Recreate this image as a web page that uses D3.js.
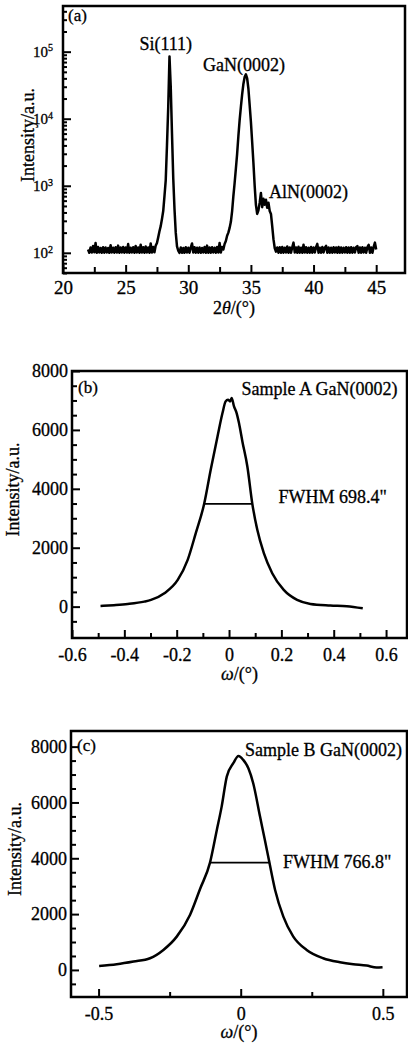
<!DOCTYPE html>
<html>
<head>
<meta charset="utf-8">
<script src="https://cdn.jsdelivr.net/npm/d3@7"></script>
<style>
  body { margin: 0; background: #fff; }
  svg text { fill: #000; stroke: #000; stroke-width: 0.3px; }
</style>
</head>
<body>
<div id="chart"></div>
<script>
// ---- (a) 2theta-omega XRD scan, log intensity, 0.1 deg step from 22 deg ----
const scanStart = 22;
const scanStep = 0.1;
const xrdIntensity = [
  // 22.0 - 27.4 background
  112, 100, 120, 101, 126, 102, 140, 100, 122, 101,
  118, 100, 121, 100, 120, 101, 118, 100, 130, 101,
  119, 100, 121, 101, 128, 100, 120, 101, 122, 100,
  120, 101, 135, 100, 119, 101, 121, 100, 126, 101,
  120, 100, 132, 101, 121, 100, 124, 101, 120, 100,
  138, 101, 122, 102, 128,
  // 27.5 - 29.1 Si(111)
  140, 170, 210, 250, 320, 420, 700, 1200, 4000, 15000,
  85000, 30000, 6000, 1300, 450, 200, 125,
  // 29.2 - 32.8 background
  108, 100, 120, 100, 118, 100, 121, 101, 119, 100,
  120, 138, 101, 121, 100, 119, 100, 120, 100, 118,
  101, 122, 100, 128, 100, 120, 100, 121, 101, 119,
  100, 122, 101, 140, 101, 122, 112,
  // 32.9 - 37.0 GaN(0002) + AlN(0002)
  135, 150, 180, 200, 235, 290, 420, 700, 1100, 1800,
  3000, 5500, 9500, 15000, 23000, 33000, 42000, 46000, 40000, 28000,
  16000, 9000, 4500, 2200, 1000, 520, 380, 430, 560, 780,
  480, 640, 520, 620, 470, 560, 420, 380, 250, 160,
  118, 104,
  // 37.1 - 45.0 background
  120, 100, 121, 100, 122, 100, 119, 101, 124, 100,
  120, 100, 121, 142, 101, 120, 100, 123, 100, 119,
  100, 132, 101, 121, 100, 119, 100, 122, 100, 120,
  101, 121, 136, 100, 119, 100, 122, 101, 119, 127,
  100, 120, 100, 119, 100, 121, 101, 120, 100, 122,
  100, 120, 100, 119, 101, 121, 100, 120, 100, 121,
  100, 119, 101, 121, 126, 100, 120, 100, 121, 101,
  119, 100, 122, 132, 100, 120, 100, 123, 142, 112,
];
const xrdTheta = xrdIntensity.map((_, i) => +(scanStart + i * scanStep).toFixed(1));
const xrdMajorTicks = [20, 25, 30, 35, 40, 45];
const xrdMinorTicks = [22.5, 27.5, 32.5, 37.5, 42.5];
const xrdDecades = [1e2, 1e3, 1e4, 1e5];
const xrdLogMinor = [50, 60, 70, 80, 90,
  200, 300, 400, 500, 600, 700, 800, 900,
  2000, 3000, 4000, 5000, 6000, 7000, 8000, 9000,
  20000, 30000, 40000, 50000, 60000, 70000, 80000, 90000,
  200000, 300000, 400000];

// ---- (b) rocking curve, sample A ----
const omegaA = [-0.491, -0.44, -0.387, -0.324, -0.298, -0.247, -0.196, -0.158, -0.127,
  -0.095, -0.07, -0.044, -0.025, -0.013, -0.004, 0.004, 0.01, 0.019, 0.029,
  0.038, 0.051, 0.07, 0.089, 0.108, 0.133, 0.165, 0.209, 0.26, 0.311,
  0.387, 0.45, 0.511];
const intensityA = [20, 50, 90, 170, 228, 455, 907, 1587, 2495,
  3490, 4647, 5780, 6573, 6968, 7026, 6968, 7083, 6800, 6573,
  6233, 5610, 4760, 3490, 2607, 1815, 1135, 567, 228, 92,
  40, 15, -57];
const fwhmA = { from: -0.095, to: 0.089, level: 3490, label: 'FWHM 698.4"' };
const omegaTicksB = [-0.6, -0.4, -0.2, 0, 0.2, 0.4, 0.6];
const omegaMinorB = [-0.5, -0.3, -0.1, 0.1, 0.3, 0.5];

// ---- (c) rocking curve, sample B ----
const omegaB = [-0.498, -0.436, -0.377, -0.319, -0.272, -0.225, -0.178, -0.143, -0.108,
  -0.084, -0.067, -0.049, -0.026, -0.008, 0.009, 0.027, 0.044, 0.068, 0.085,
  0.101, 0.121, 0.15, 0.185, 0.232, 0.29, 0.349, 0.396, 0.443, 0.478, 0.499];
const intensityB = [143, 203, 300, 419, 717, 1193, 1980, 2900, 3845,
  5016, 5851, 6926, 7406, 7667, 7524, 7227, 6690, 5493, 4658,
  3845, 2866, 1910, 1193, 717, 419, 275, 203, 155, 84, 96];
const fwhmB = { from: -0.108, to: 0.101, level: 3845, label: 'FWHM 766.8"' };
const omegaTicksC = [-0.5, 0, 0.5];
const omegaMinorC = [-0.25, 0.25];

const intensityTicks = [0, 2000, 4000, 6000, 8000];
const intensityMinor = [-500, 500, 1000, 1500, 2500, 3000, 3500, 4500, 5000, 5500, 6500, 7000, 7500];

const FONT = '"Liberation Serif", "Times New Roman", Times, serif';

const svg = d3.select('#chart')
  .append('svg')
  .attr('width', 408)
  .attr('height', 1043)
  .style('background', '#fff');

// common axis styling: no domain path (frame drawn separately), thick black ticks
const styleAxis = (sel, fontSize) => {
  sel.select('.domain').remove();
  sel.attr('font-family', FONT).attr('font-size', fontSize);
  sel.selectAll('.tick line').attr('stroke', '#000').attr('stroke-width', 2);
  sel.selectAll('.tick text').attr('fill', '#000');
};

const fmt = (d) => String(d);

const drawFrame = (x, y) => {
  const [x0, x1] = x.range();
  const [y0, y1] = y.range();
  svg.append('rect')
    .attr('x', x0).attr('y', y1)
    .attr('width', x1 - x0).attr('height', y0 - y1)
    .attr('fill', 'none')
    .attr('stroke', '#000')
    .attr('stroke-width', 2.5);
};

const yTitle = (cx, cy) => {
  svg.append('text')
    .attr('transform', `translate(${cx},${cy}) rotate(-90)`)
    .attr('text-anchor', 'middle')
    .attr('dy', '0.35em')
    .attr('font-family', FONT)
    .attr('font-size', 18)
    .text('Intensity/a.u.');
};

const xTitle = (cx, baseline, symbol) => {
  const t = svg.append('text')
    .attr('x', cx).attr('y', baseline)
    .attr('text-anchor', 'middle')
    .attr('font-family', FONT)
    .attr('font-size', 18);
  if (symbol === 'theta') {
    t.append('tspan').text('2');
    t.append('tspan').attr('font-style', 'italic').text('θ');
  } else {
    t.append('tspan').attr('font-style', 'italic').text('ω');
  }
  t.append('tspan').text('/(°)');
};

const note = (x, y, txt, anchor = 'start', size = 18) => {
  svg.append('text')
    .attr('x', x).attr('y', y)
    .attr('text-anchor', anchor)
    .attr('font-family', FONT)
    .attr('font-size', size)
    .text(txt);
};

// ================= panel (a) =================
const xA = d3.scaleLinear().domain([20, 47.3]).range([63, 405]);
const yA = d3.scaleLog().domain([50, 4.8e5]).range([273, 6]);

svg.append('g')
  .attr('transform', `translate(0,${yA.range()[0]})`)
  .call(d3.axisBottom(xA).tickValues(xrdMinorTicks).tickSize(-6).tickFormat(''))
  .call((s) => styleAxis(s, 19));

svg.append('g')
  .attr('transform', `translate(0,${yA.range()[0]})`)
  .call(d3.axisBottom(xA).tickValues(xrdMajorTicks).tickSize(-8).tickPadding(8).tickFormat(fmt))
  .call((s) => styleAxis(s, 19));

svg.append('g')
  .attr('transform', `translate(${xA.range()[0]},0)`)
  .call(d3.axisLeft(yA).tickValues(xrdLogMinor).tickSize(-4).tickFormat(''))
  .call((s) => styleAxis(s, 14));

svg.append('g')
  .attr('transform', `translate(${xA.range()[0]},0)`)
  .call(d3.axisLeft(yA).tickValues(xrdDecades).tickSize(-8).tickPadding(10).tickFormat(() => '10'))
  .call((s) => styleAxis(s, 15))
  .call((s) => s.selectAll('.tick text')
    .append('tspan')
    .attr('dy', '-0.55em')
    .attr('font-size', 10)
    .text((d) => Math.round(Math.log10(d))));

const xrdLine = d3.line()
  .x((d, i) => xA(xrdTheta[i]))
  .y((d) => yA(d));

svg.append('path')
  .datum(xrdIntensity)
  .attr('d', xrdLine)
  .attr('fill', 'none')
  .attr('stroke', '#000')
  .attr('stroke-width', 2.5)
  .attr('stroke-linejoin', 'round');

drawFrame(xA, yA);
yTitle(28, 135);
xTitle(234, 314, 'theta');
note(68, 21, '(a)', 'start', 17);
note(xA(28.2), yA(1.05e5), 'Si(111)', 'middle');
note(xA(34.45), yA(5.2e4), 'GaN(0002)', 'middle');
note(xA(36.44), yA(660), 'AlN(0002)', 'start');

// ================= rocking curve panels =================
const rockingPanel = (cfg) => {
  const { x, y, omega, intensity, fwhm, ticks, minor, label, sample, fwhmAt, sampleAt, titleY, ylabelX } = cfg;
  const bottom = y.range()[0];
  const left = x.range()[0];

  svg.append('g')
    .attr('transform', `translate(0,${bottom})`)
    .call(d3.axisBottom(x).tickValues(minor).tickSize(-5).tickFormat(''))
    .call((s) => styleAxis(s, 18));

  svg.append('g')
    .attr('transform', `translate(0,${bottom})`)
    .call(d3.axisBottom(x).tickValues(ticks).tickSize(-8).tickPadding(10).tickFormat(fmt))
    .call((s) => styleAxis(s, 18));

  svg.append('g')
    .attr('transform', `translate(${left},0)`)
    .call(d3.axisLeft(y).tickValues(intensityMinor).tickSize(-5).tickFormat(''))
    .call((s) => styleAxis(s, 18));

  svg.append('g')
    .attr('transform', `translate(${left},0)`)
    .call(d3.axisLeft(y).tickValues(intensityTicks).tickSize(-8).tickPadding(4).tickFormat(fmt))
    .call((s) => styleAxis(s, 18));

  const line = d3.line()
    .x((d, i) => x(omega[i]))
    .y((d) => y(d))
    .curve(d3.curveMonotoneX);

  svg.append('path')
    .datum(intensity)
    .attr('d', line)
    .attr('fill', 'none')
    .attr('stroke', '#000')
    .attr('stroke-width', 2.5)
    .attr('stroke-linejoin', 'round');

  svg.append('line')
    .attr('x1', x(fwhm.from)).attr('x2', x(fwhm.to))
    .attr('y1', y(fwhm.level)).attr('y2', y(fwhm.level))
    .attr('stroke', '#000')
    .attr('stroke-width', 1.8);

  drawFrame(x, y);
  const [yb, yt] = y.range();
  yTitle(ylabelX, (yb + yt) / 2 - 15);
  xTitle((x.range()[0] + x.range()[1]) / 2, titleY, 'omega');
  note(left + 6, yt + cfg.labelDy, label, 'start', 17);
  note(x(sampleAt[0]), y(sampleAt[1]), sample, 'start');
  note(x(fwhmAt[0]), y(fwhmAt[1]), fwhm.label, 'start');
};

rockingPanel({
  x: d3.scaleLinear().domain([-0.6, 0.68]).range([72, 407]),
  y: d3.scaleLinear().domain([-1065, 8000]).range([638, 371]),
  omega: omegaA,
  intensity: intensityA,
  fwhm: fwhmA,
  ticks: omegaTicksB,
  minor: omegaMinorB,
  label: '(b)',
  labelDy: 22,
  sample: 'Sample A GaN(0002)',
  sampleAt: [0.048, 7196],
  fwhmAt: [0.189, 3525],
  titleY: 680,
  ylabelX: 13,
});

rockingPanel({
  x: d3.scaleLinear().domain([-0.597, 0.585]).range([71, 407]),
  y: d3.scaleLinear().domain([-970, 8560]).range([997, 731]),
  omega: omegaB,
  intensity: intensityB,
  fwhm: fwhmB,
  ticks: omegaTicksC,
  minor: omegaMinorC,
  label: '(c)',
  labelDy: 20,
  sample: 'Sample B GaN(0002)',
  sampleAt: [0.015, 7667],
  fwhmAt: [0.149, 3655],
  titleY: 1038,
  ylabelX: 15,
});
</script>
</body>
</html>
